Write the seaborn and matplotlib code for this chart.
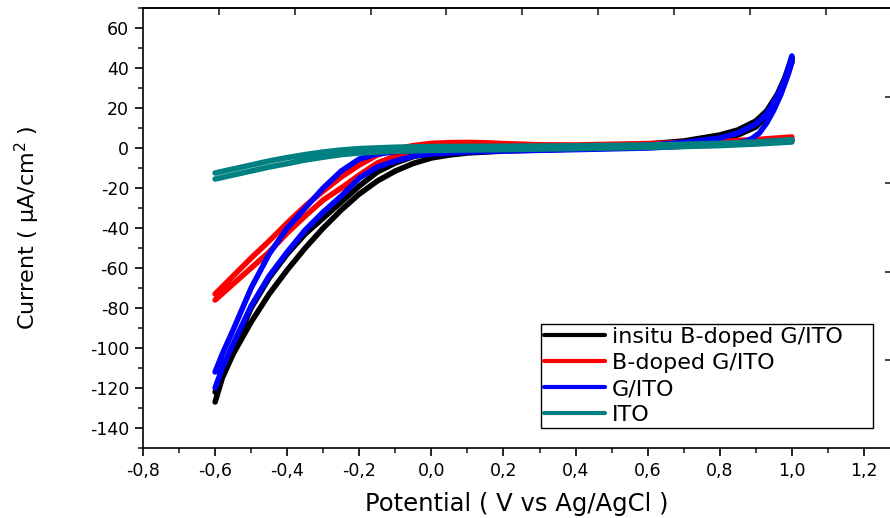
import numpy as np
import pandas as pd
import matplotlib
matplotlib.use("Agg")
import matplotlib.pyplot as plt
import seaborn as sns
from matplotlib.ticker import MultipleLocator, FuncFormatter

# ---------------- data ----------------
labels = ["insitu B-doped G/ITO", "B-doped G/ITO", "G/ITO", "ITO"]
colors = ["#000000", "#FF0000", "#0000FF", "#008080"]

# insitu B-doped G/ITO
black_fwd_x = [-0.6, -0.58, -0.55, -0.5, -0.45, -0.4, -0.35, -0.3, -0.25, -0.2, -0.15, -0.1, -0.05, 0.0, 0.1, 0.2, 0.4, 0.6, 0.7, 0.8, 0.85, 0.9, 0.93, 0.96, 0.98, 1.0]
black_fwd_y = [-122, -114, -100, -80, -65, -53, -43, -35, -27, -19, -12, -7.5, -4.3, -2.5, -1.2, -0.6, 0.4, 2.0, 3.5, 6.5, 9, 13.5, 18.5, 27, 35, 45]
black_rev_x = [1.0, 0.98, 0.96, 0.93, 0.9, 0.85, 0.8, 0.7, 0.6, 0.4, 0.2, 0.1, 0.05, 0.0, -0.05, -0.1, -0.15, -0.2, -0.25, -0.3, -0.35, -0.4, -0.45, -0.5, -0.55, -0.58, -0.6]
black_rev_y = [43, 33, 25, 16, 10.5, 6.5, 4.5, 2.5, 1.0, -0.5, -1.5, -2.5, -3.5, -5, -7.7, -11.5, -16.5, -23, -31, -40, -50, -61, -73, -87, -103, -115, -127]

# B-doped G/ITO
red_fwd_x = [-0.6, -0.55, -0.5, -0.45, -0.4, -0.35, -0.3, -0.25, -0.2, -0.15, -0.1, -0.05, 0.0, 0.05, 0.1, 0.15, 0.2, 0.3, 0.4, 0.6, 0.8, 0.9, 1.0]
red_fwd_y = [-73, -64, -55, -46.5, -37.5, -29, -21.5, -14.5, -8.5, -3.5, -0.5, 1.2, 2.3, 2.7, 2.8, 2.6, 2.2, 1.6, 1.5, 2.2, 3.3, 4.2, 5.5]
red_rev_x = [1.0, 0.9, 0.8, 0.6, 0.4, 0.2, 0.1, 0.0, -0.05, -0.1, -0.15, -0.2, -0.25, -0.3, -0.35, -0.4, -0.45, -0.5, -0.55, -0.6]
red_rev_y = [3.5, 2.3, 1.5, 0.3, -0.5, -1.0, -1.2, -1.3, -2.5, -4, -7.5, -13.5, -20, -26, -34, -42.5, -52, -60, -68, -76]

# G/ITO
blue_fwd_x = [-0.6, -0.58, -0.55, -0.5, -0.45, -0.4, -0.35, -0.3, -0.25, -0.2, -0.15, -0.1, 0.0, 0.2, 0.4, 0.6, 0.7, 0.8, 0.85, 0.9, 0.93, 0.96, 0.98, 1.0]
blue_fwd_y = [-112, -103, -91, -70, -53, -40, -30, -20, -11.5, -5.5, -3, -1.8, -1.2, -0.5, 0.2, 1.3, 2.8, 5, 7.5, 12, 17, 26, 34, 46]
blue_rev_x = [1.0, 0.99, 0.97, 0.95, 0.93, 0.91, 0.89, 0.87, 0.85, 0.8, 0.6, 0.4, 0.2, 0.1, 0.0, -0.05, -0.1, -0.15, -0.2, -0.25, -0.3, -0.35, -0.4, -0.45, -0.5, -0.55, -0.58, -0.6]
blue_rev_y = [43, 37, 27, 19, 12.5, 7.5, 4.8, 3.2, 2.6, 1.8, 0.0, -0.8, -1.5, -2, -3, -4, -6.5, -9.5, -15, -24, -32, -41, -52, -64, -79, -98, -110, -120]

# ITO
teal_fwd_x = [-0.6, -0.55, -0.5, -0.45, -0.4, -0.35, -0.3, -0.25, -0.2, -0.1, 0.0, 0.2, 0.4, 0.6, 0.8, 0.9, 1.0]
teal_fwd_y = [-12.5, -10.5, -8.5, -6.5, -4.8, -3.3, -2, -1, -0.3, 0.4, 0.7, 0.9, 1.1, 1.5, 2.3, 3, 4.2]
teal_rev_x = [1.0, 0.9, 0.8, 0.6, 0.4, 0.2, 0.0, -0.1, -0.2, -0.25, -0.3, -0.35, -0.4, -0.45, -0.5, -0.55, -0.6]
teal_rev_y = [3, 2, 1.2, 0.3, -0.3, -0.8, -1.2, -1.6, -2.5, -3.3, -4.6, -6, -7.8, -9.5, -11.5, -13.5, -15.5]

x_ticks = [-0.8, -0.6, -0.4, -0.2, 0.0, 0.2, 0.4, 0.6, 0.8, 1.0, 1.2]
y_ticks = [-140, -120, -100, -80, -60, -40, -20, 0, 20, 40, 60]

# ---------------- build table ----------------
curves = [
    (black_fwd_x + black_rev_x, black_fwd_y + black_rev_y),
    (red_fwd_x + red_rev_x, red_fwd_y + red_rev_y),
    (blue_fwd_x + blue_rev_x, blue_fwd_y + blue_rev_y),
    (teal_fwd_x + teal_rev_x, teal_fwd_y + teal_rev_y),
]
frames = []
for lab, (xs, ys) in zip(labels, curves):
    frames.append(pd.DataFrame({"Potential": xs, "Current": ys, "Sample": lab,
                                "step": np.arange(len(xs))}))
df = pd.concat(frames, ignore_index=True)

# ---------------- style ----------------
sns.set_theme(style="ticks")
plt.rcParams["font.family"] = ["DejaVu Sans"]
plt.rcParams["axes.unicode_minus"] = False
plt.rcParams["mathtext.fontset"] = "dejavusans"
plt.rcParams["text.color"] = "black"
plt.rcParams["axes.labelcolor"] = "black"

fig = plt.figure(figsize=(8.9, 5.18), dpi=100)
ax = fig.add_axes([143 / 890, 70 / 518, 748 / 890, 440 / 518])

sns.lineplot(data=df, x="Potential", y="Current", hue="Sample", hue_order=labels,
             palette=dict(zip(labels, colors)), sort=False, estimator=None,
             linewidth=4.0, ax=ax, legend=False)

ax.set_xlim(-0.8, 1.275)
ax.set_ylim(-150, 70)
ax.set_xticks(x_ticks)
ax.set_yticks(y_ticks)
ax.xaxis.set_minor_locator(MultipleLocator(0.1))
ax.yaxis.set_minor_locator(MultipleLocator(10))
ax.xaxis.set_major_formatter(FuncFormatter(lambda v, p: f"{v:.1f}".replace(".", ",")))
ax.yaxis.set_major_formatter(FuncFormatter(lambda v, p: f"{v:.0f}"))
ax.tick_params(axis="both", which="major", direction="out", length=6, width=1.2,
               labelsize=12.5, colors="black", pad=4)
ax.tick_params(axis="both", which="minor", direction="out", length=3.5, width=1.2)
ax.tick_params(top=False, right=False)
for s in ax.spines.values():
    s.set_linewidth(1.2)
    s.set_color("black")

# top and right axis marks (from the original frame)
top_ax = ax.secondary_xaxis("top")
top_ax.set_xticks([-0.589 + 0.2103 * k for k in range(9)])
top_ax.tick_params(direction="in", length=5, width=1.2, labeltop=False)
top_ax.spines["top"].set_linewidth(1.2)
right_ax = ax.secondary_yaxis("right")
right_ax.set_yticks([25.4, -17.7, -62.0, -106.0])
right_ax.tick_params(direction="in", length=4, width=1.2, labelright=False)

ax.set_xlabel("Potential ( V vs Ag/AgCl )", fontsize=17.5, color="black")
ax.xaxis.set_label_coords(0.5, -0.1)
ax.set_ylabel("Current ( μA/cm$^{2}$ )", fontsize=16, color="black")
ax.yaxis.set_label_coords(-0.135, 0.5)

handles = [plt.Line2D([], [], color=c, lw=3.0) for c in colors]
leg = ax.legend(handles, labels, loc="lower left",
                bbox_to_anchor=(0.532, 0.045, 0.444, 0.236), mode="expand",
                fontsize=16, frameon=True, fancybox=False, framealpha=1,
                edgecolor="black", handlelength=2.75, handletextpad=0.3,
                labelspacing=0.27, borderpad=0.14, borderaxespad=0)
leg.get_frame().set_linewidth(1.0)
for t in leg.get_texts():
    t.set_color("black")

fig.savefig("out.png", dpi=100)
